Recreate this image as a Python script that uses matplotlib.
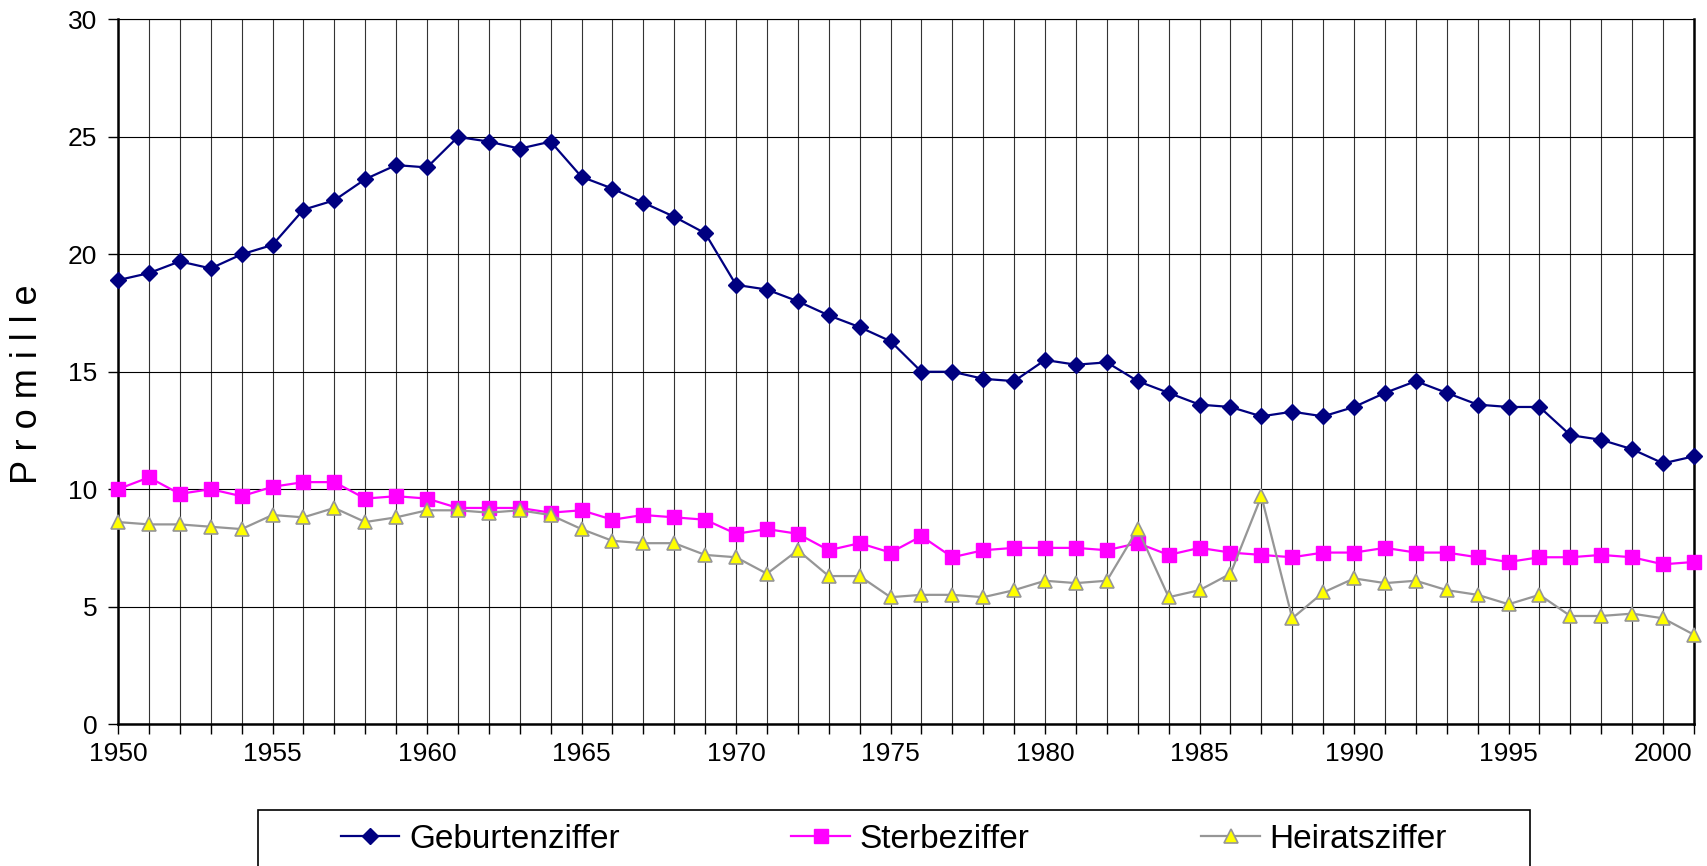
import matplotlib.pyplot as plt
from matplotlib.patches import Rectangle
import numpy as np

plt.rcParams['font.family'] = ['Liberation Sans', 'DejaVu Sans']

# years 1950..2001
years = list(range(1950, 2002))

geburten = [18.9, 19.2, 19.7, 19.4, 20.0, 20.4, 21.9, 22.3, 23.2, 23.8,
            23.7, 25.0, 24.8, 24.5, 24.8, 23.3, 22.8, 22.2, 21.6, 20.9,
            18.7, 18.5, 18.0, 17.4, 16.9, 16.3, 15.0, 15.0, 14.7, 14.6,
            15.5, 15.3, 15.4, 14.6, 14.1, 13.6, 13.5, 13.1, 13.3, 13.1,
            13.5, 14.1, 14.6, 14.1, 13.6, 13.5, 13.5, 12.3, 12.1, 11.7,
            11.1, 11.4]

sterbe = [10.0, 10.5, 9.8, 10.0, 9.7, 10.1, 10.3, 10.3, 9.6, 9.7,
          9.6, 9.2, 9.2, 9.2, 9.0, 9.1, 8.7, 8.9, 8.8, 8.7,
          8.1, 8.3, 8.1, 7.4, 7.7, 7.3, 8.0, 7.1, 7.4, 7.5,
          7.5, 7.5, 7.4, 7.7, 7.2, 7.5, 7.3, 7.2, 7.1, 7.3,
          7.3, 7.5, 7.3, 7.3, 7.1, 6.9, 7.1, 7.1, 7.2, 7.1,
          6.8, 6.9]

heirat = [8.6, 8.5, 8.5, 8.4, 8.3, 8.9, 8.8, 9.2, 8.6, 8.8,
          9.1, 9.1, 9.0, 9.1, 8.9, 8.3, 7.8, 7.7, 7.7, 7.2,
          7.1, 6.4, 7.4, 6.3, 6.3, 5.4, 5.5, 5.5, 5.4, 5.7,
          6.1, 6.0, 6.1, 8.3, 5.4, 5.7, 6.4, 9.7, 4.5, 5.6,
          6.2, 6.0, 6.1, 5.7, 5.5, 5.1, 5.5, 4.6, 4.6, 4.7,
          4.5, 3.8]

fig = plt.figure(figsize=(17.08, 8.66), dpi=100)
ax = fig.add_axes([118 / 1708, 1 - 724 / 866, (1694 - 118) / 1708, (724 - 19.5) / 866])

l1, = ax.plot(years, geburten, color='#000080', lw=1.6, marker='D', ms=8,
              mfc='#000080', mec='#000080', clip_on=False, zorder=5)
l2, = ax.plot(years, sterbe, color='#FF00FF', lw=1.6, marker='s', ms=10,
              mfc='#FF00FF', mec='#FF00FF', clip_on=False, zorder=5)
l3, = ax.plot(years, heirat, color='#969696', lw=1.6, marker='^', ms=10,
              mfc='#FFFF00', mec='#969696', mew=1.2, clip_on=False, zorder=5)

ax.set_xlim(1950, 2001)
ax.set_ylim(0, 30)
ax.set_xticks(range(1950, 2001, 5))
ax.set_xticks(years, minor=True)
ax.set_yticks(range(0, 31, 5))
ax.grid(True, which='both', axis='x', color='#333333', lw=0.8)
ax.grid(True, which='major', axis='y', color='black', lw=0.8)
ax.set_axisbelow(True)

ax.tick_params(axis='both', which='both', direction='out', length=7, width=1,
               colors='black')
ax.tick_params(axis='both', which='major', labelsize=19)
ax.tick_params(axis='x', which='major', pad=6)
ax.tick_params(axis='y', pad=8)

for side in ['left', 'bottom', 'right']:
    ax.spines[side].set_linewidth(1.8)
ax.spines['top'].set_linewidth(0.8)

fig.text(28 / 1708, 0.556, 'P r o m i l l e', rotation=90, fontsize=26,
         ha='center', va='center')

# legend frame running off the bottom edge
fig.patches.append(Rectangle((258 / 1708, -0.05), (1530 - 258) / 1708, 0.05 + (866 - 810) / 866,
                             transform=fig.transFigure, fill=False, ec='black', lw=1.2))
fig.legend([l1, l2, l3], ['Geburtenziffer', 'Sterbeziffer', 'Heiratsziffer'],
           loc='center', bbox_to_anchor=(0.5234, 1 - 839 / 866), ncol=3, frameon=False,
           fontsize=24, handlelength=1.75, handletextpad=0.3, columnspacing=5.15)

fig.savefig('out.png', dpi=100)
